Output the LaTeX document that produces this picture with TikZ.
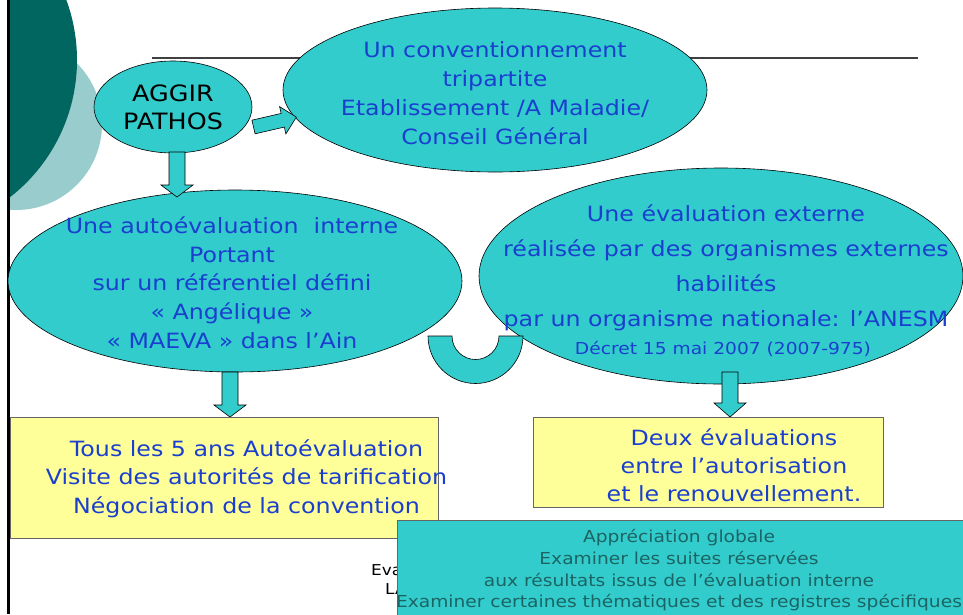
\documentclass[tikz,border=0pt]{standalone}
\usepackage{fontspec}
\setmainfont{DejaVu Sans}[FakeStretch=1.13]
\usetikzlibrary{shapes.geometric,calc}
\definecolor{tealfill}{HTML}{33CCCC}
\definecolor{darkteal}{HTML}{00665F}
\definecolor{lightteal}{HTML}{99CCCC}
\definecolor{txtblue}{HTML}{1A3FCF}
\definecolor{ylw}{HTML}{FFFF99}
\definecolor{boxtxt}{HTML}{1C6464}
\tikzset{
  bubble/.style={ellipse, draw=black, line width=0.6pt, fill=tealfill, inner sep=0pt},
  ybox/.style={rectangle, draw=black!60, line width=0.8pt, fill=ylw, inner sep=0pt},
  tbox/.style={rectangle, draw=black!60, line width=0.8pt, fill=tealfill, inner sep=0pt},
  bluetxt/.style={text=txtblue, align=center, inner sep=0pt},
  barrow/.style={draw=black, line width=0.6pt, fill=tealfill, line join=miter}
}
\newcommand\dnarrow[4]{% x, ytop, yhead, ytip
  \draw[barrow] (#1-8,#2) -- (#1+8,#2) -- (#1+8,#3) -- (#1+16,#3) -- (#1,#4)
    -- (#1-16,#3) -- (#1-8,#3) -- cycle;}
\begin{document}
\begin{tikzpicture}[x=1pt,y=-1pt]
\useasboundingbox (0,0) rectangle (963,614);
\fill[white] (0,0) rectangle (963,614);
% decorative circles
\begin{scope}
  \clip (10,0) rectangle (963,614);
  \fill[lightteal] (16,124) circle[radius=86pt];
  \fill[darkteal] (-97,60) circle[radius=174pt];
\end{scope}
\draw[line width=2.5pt] (8.7,0) -- (8.7,614);
\draw[line width=1.2pt, black!75] (152,58) -- (918,58);

% AGGIR
\node[bubble, minimum width=158pt, minimum height=92pt] (aggir) at (173,107) {};
\node[align=center, inner sep=0pt, font=\fontsize{22.5}{28}\selectfont] (aggirt) at (aggir.center) {AGGIR\\PATHOS};

% conventionnement
\node[bubble, minimum width=424pt, minimum height=164pt] (conv) at (495,90) {};
\node[bluetxt, font=\fontsize{21}{29}\selectfont] (convt) at (495,93.5)
  {Un conventionnement\\tripartite\\Etablissement /A Maladie/\\Conseil Général};

% tilted arrow aggir -> conv
\begin{scope}[shift={(253.5,127)}, rotate=13]
  \draw[barrow] (0,-7) -- (30,-7) -- (30,-14) -- (44,0) -- (30,14) -- (30,7) -- (0,7) -- cycle;
\end{scope}

% left ellipse
\node[bubble, minimum width=454pt, minimum height=182pt] (auto) at (235,281) {};
\dnarrow{177}{152}{185}{197}

% right ellipse
\node[bubble, minimum width=484pt, minimum height=216pt] (ext) at (721,276) {};

% cup
\draw[barrow] (428,336) arc[start angle=180, end angle=360, radius=47.5pt]
  -- (499,336) arc[start angle=360, end angle=180, radius=23.5pt] -- cycle;

\node[bluetxt, font=\fontsize{21}{28.75}\selectfont] (autot) at (232,282.5)
  {Une autoévaluation\ \ interne\\Portant\\sur un référentiel défini\\« Angélique »\\« MAEVA » dans l’Ain};
\node[bluetxt, font=\fontsize{21}{35}\selectfont] (extt) at (726,267.5)
  {Une évaluation externe\\réalisée par des organismes externes\\habilités\\par un organisme nationale: l’ANESM};
\node[bluetxt, font=\fontsize{16.5}{20}\selectfont] (decret) at (723,349) {Décret 15 mai 2007 (2007-975)};

% down arrows
\dnarrow{230}{372}{405}{417}
\dnarrow{730}{372}{403}{417}

% yellow boxes
\node[ybox, minimum width=428pt, minimum height=121pt, anchor=north west] (yl) at (10,417) {};
\node[bluetxt, font=\fontsize{21}{28.5}\selectfont] (ylt) at (246.5,478.5)
  {Tous les 5 ans Autoévaluation\\Visite des autorités de tarification\\Négociation de la convention};
\node[ybox, minimum width=350pt, minimum height=90pt, anchor=north west] (yr) at (533,417) {};
\node[bluetxt, font=\fontsize{21}{28}\selectfont] (yrt) at (734,465)
  {Deux évaluations\\entre l’autorisation\\et le renouvellement.};

% footer text partly hidden
\node[anchor=west, inner sep=0pt, font=\fontsize{15}{16}\selectfont] (eva) at (371,570) {Eva};
\node[anchor=west, inner sep=0pt, font=\fontsize{15}{16}\selectfont] (la) at (385,589) {LA};

% bottom teal box
\node[tbox, minimum width=570pt, minimum height=98pt, anchor=north west] (bt) at (397,520) {};
\node[text=boxtxt, align=center, inner sep=0pt, font=\fontsize{16.5}{21.7}\selectfont] (btt) at (679,570.5)
  {Appréciation globale\\Examiner les suites réservées\\aux résultats issus de l’évaluation interne\\Examiner certaines thématiques et des registres spécifiques};
\end{tikzpicture}
\end{document}
